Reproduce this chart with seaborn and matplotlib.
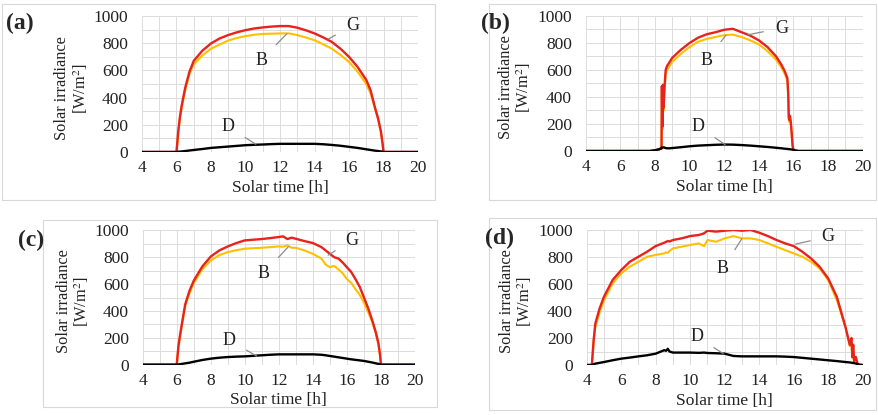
import matplotlib
matplotlib.use("Agg")
import matplotlib.pyplot as plt
from matplotlib.patches import Rectangle
from matplotlib.ticker import MultipleLocator
import pandas as pd
import seaborn as sns

# panel (a)
t_a = [4, 6.0, 6.1, 6.2, 6.3, 6.5, 6.75, 7, 7.5, 8, 8.5, 9, 9.5, 10, 10.5, 11, 11.5, 12, 12.5, 13,
       13.5, 14, 14.5, 15, 15.5, 16, 16.5, 17, 17.25, 17.5, 17.7, 17.85, 17.95, 18.0, 20]
G_a = [0, 0, 150, 260, 340, 470, 590, 670, 745, 798, 835, 860, 880, 896, 908, 916, 922, 926, 926, 914,
       895, 872, 843, 810, 760, 700, 625, 530, 455, 330, 240, 150, 60, 0, 0]
B_a = [0, 0, 140, 245, 325, 450, 570, 645, 710, 760, 790, 820, 838, 852, 862, 868, 870, 872, 872, 860,
       842, 822, 792, 760, 715, 662, 590, 500, 430, 320, 235, 145, 55, 0, 0]
D_a = [0, 0, 2, 3, 4, 7, 11, 15, 22, 30, 35, 40, 45, 50, 53, 55, 58, 60, 60, 60,
       60, 60, 57, 52, 46, 38, 30, 20, 15, 10, 7, 4, 2, 0, 0]

# panel (b)
t_b = [4, 7.7, 8.0, 8.2, 8.38, 8.4, 8.43, 8.46, 8.5, 8.55, 8.62, 8.7, 8.85, 9, 9.25, 9.5, 10, 10.5, 11, 11.5,
       12, 12.5, 13, 13.5, 14, 14.5, 15, 15.3, 15.5, 15.65, 15.7, 15.73, 15.76, 15.8, 15.85, 15.9, 15.95, 16.0,
       16.1, 16.3, 20]
G_b = [0, 0, 5, 10, 20, 480, 180, 490, 320, 470, 600, 630, 660, 690, 720, 750, 800, 840, 865, 880,
       898, 905, 880, 855, 820, 770, 700, 640, 590, 540, 420, 250, 230, 260, 210, 130, 40, 10,
       0, 0, 0]
B_b = [0, 0, 3, 8, 15, 430, 160, 450, 300, 440, 570, 600, 630, 660, 690, 720, 770, 810, 830, 845,
       858, 862, 845, 820, 790, 740, 675, 620, 570, 520, 400, 235, 215, 245, 195, 120, 35, 8,
       0, 0, 0]
D_b = [0, 0, 5, 12, 20, 25, 25, 26, 27, 25, 22, 20, 20, 22, 25, 28, 35, 40, 43, 46,
       48, 47, 44, 40, 35, 30, 24, 20, 17, 15, 14, 14, 13, 13, 12, 11, 10, 8,
       5, 0, 0]

# panel (c)
t_c = [4, 6.0, 6.1, 6.2, 6.35, 6.5, 6.75, 7, 7.5, 8, 8.5, 9, 9.5, 10, 10.5, 11, 11.5, 12, 12.25, 12.5,
       12.75, 13, 13.5, 14, 14.5, 14.75, 15, 15.25, 15.5, 15.75, 16, 16.25, 16.5, 16.75, 17, 17.25, 17.5, 17.7,
       17.85, 17.95, 18.0, 20]
G_c = [0, 0, 140, 225, 340, 450, 550, 625, 730, 805, 850, 880, 905, 925, 930, 935, 942, 950, 955, 935,
       945, 937, 920, 905, 875, 850, 825, 800, 790, 760, 725, 690, 637, 580, 500, 420, 325, 240,
       160, 70, 0, 0]
B_c = [0, 0, 130, 215, 325, 437, 530, 605, 710, 775, 815, 838, 852, 863, 867, 870, 875, 880, 878, 888,
       870, 870, 850, 825, 790, 745, 725, 735, 710, 680, 637, 610, 562, 520, 462, 390, 312, 230,
       150, 65, 0, 0]
D_c = [0, 0, 2, 4, 7, 10, 15, 22, 35, 45, 52, 57, 60, 62, 66, 70, 74, 77, 77, 77,
       77, 77, 77, 77, 74, 70, 65, 60, 55, 50, 45, 40, 36, 32, 28, 22, 16, 10,
       6, 3, 0, 0]

# panel (d)
t_d = [4, 4.3, 4.4, 4.5, 4.75, 5, 5.5, 6, 6.5, 7, 7.5, 8, 8.5, 8.6, 8.7, 8.8, 9, 9.5, 10, 10.5,
       10.8, 11, 11.5, 12, 12.5, 13, 13.5, 14, 14.5, 15, 15.5, 16, 16.5, 17, 17.5, 18, 18.5, 19,
       19.25, 19.35, 19.4, 19.45, 19.5, 19.6, 19.7, 19.8, 20]
G_d = [0, 0, 180, 307, 420, 505, 629, 703, 765, 802, 839, 881, 906, 912, 918, 915, 926, 938, 955, 963,
       975, 995, 988, 995, 1000, 995, 1000, 980, 955, 926, 901, 881, 839, 790, 728, 641, 505, 282,
       150, 200, 60, 150, 30, 60, 10, 0, 0]
B_d = [0, 0, 170, 282, 390, 480, 604, 678, 728, 765, 802, 815, 827, 835, 830, 845, 864, 876, 889, 901,
       880, 926, 913, 938, 955, 938, 938, 926, 901, 876, 851, 827, 802, 765, 715, 629, 480, 282,
       140, 170, 50, 120, 25, 40, 5, 0, 0]
D_d = [0, 0, 5, 10, 16, 22, 35, 47, 55, 64, 72, 84, 110, 105, 120, 100, 92, 92, 92, 90,
       92, 89, 87, 84, 67, 64, 64, 64, 64, 64, 62, 59, 53, 47, 41, 35, 29, 22,
       19, 17, 16, 15, 14, 11, 7, 3, 0]

panel_names = ["(a)", "(b)", "(c)", "(d)"]

sns.set_style("white")
plt.rcParams['font.family'] = ['Liberation Serif', 'DejaVu Serif']
plt.rcParams['mathtext.fontset'] = 'stix'

W, H = 879, 415
fig = plt.figure(figsize=(W / 100, H / 100), dpi=100)


def fx(px):
    return px / W


def fy(py):
    return 1 - py / H


# axes boxes in pixels: left, right, top, bottom
boxes = [(142, 418, 16, 152), (585.7, 862.7, 16, 151),
         (142.7, 415, 230.3, 364.7), (586.7, 862.7, 230, 365)]
# grey frames around each panel
frames = [(2, 435, 4, 200), (489, 876, 4, 200), (43, 437, 220, 407), (489, 876, 218, 410)]
label_pos = [(20, 23), (495, 23), (31, 240), (499, 238)]

# annotation spots: (text xy, point xy) for G, B, D
notes = [
    [((16.2, 930), (14.8, 830)), ((10.9, 674), (12.4, 870)), ((9.0, 185), (10.6, 57))],
    [((15.3, 909), (13.4, 862)), ((11.0, 674), (12.1, 858)), ((10.5, 180), (12.05, 48))],
    [((16.3, 926), (14.9, 815)), ((11.1, 677), (12.56, 878)), ((9.1, 181), (10.7, 64))],
    [((18.0, 950), (16.1, 895)), ((11.9, 715), (12.99, 935)), ((10.4, 208), (11.92, 84))],
]

data = [(t_a, G_a, B_a, D_a), (t_b, G_b, B_b, D_b), (t_c, G_c, B_c, D_c), (t_d, G_d, B_d, D_d)]

for i, (t, G, B, D) in enumerate(data):
    l, r, tp, bt = boxes[i]
    ax = fig.add_axes([fx(l), fy(bt), fx(r) - fx(l), fy(tp) - fy(bt)])
    df = pd.DataFrame({"t": t, "G": G, "B": B, "D": D})
    sns.lineplot(data=df, x="t", y="B", ax=ax, color="#ffc000", linewidth=1.5)
    sns.lineplot(data=df, x="t", y="G", ax=ax, color="#e8221c", linewidth=1.7)
    sns.lineplot(data=df, x="t", y="D", ax=ax, color="black", linewidth=1.7)

    ax.set_xlim(4, 20)
    ax.set_ylim(0, 1000)
    ax.xaxis.set_major_locator(MultipleLocator(2))
    ax.xaxis.set_minor_locator(MultipleLocator(1))
    ax.yaxis.set_major_locator(MultipleLocator(200))
    ax.yaxis.set_minor_locator(MultipleLocator(100))
    ax.grid(which="both", color="#dcdcdc", linewidth=0.7)
    ax.set_axisbelow(True)
    for s in ax.spines.values():
        s.set_visible(False)
    ax.tick_params(which="both", length=0, labelsize=12.5, colors="#222222")
    ax.tick_params(axis="x", pad=6)
    ax.tick_params(axis="y", pad=10)
    ax.set_xlabel("Solar time [h]", fontsize=12.5, color="#222222")
    ax.set_ylabel("Solar irradiance\n[W/m$^2$]", fontsize=11.8, color="#222222", linespacing=1.05)
    ax.xaxis.set_label_coords(0.5, -0.205)
    ax.yaxis.set_label_coords(-0.19, 0.47)

    for name, (txt, pt) in zip(["G", "B", "D"], notes[i]):
        ax.annotate(name, xy=pt, xytext=txt, fontsize=13, ha="center", va="center", color="#222222",
                    arrowprops=dict(arrowstyle="-", color="#8c8c8c", lw=0.9, shrinkA=6, shrinkB=0))

    fl, fr, ft, fb = frames[i]
    fig.add_artist(Rectangle((fx(fl), fy(fb)), fx(fr) - fx(fl), fy(ft) - fy(fb),
                             transform=fig.transFigure, fill=False, edgecolor="#d8d8d8", linewidth=0.8))
    lx, ly = label_pos[i]
    fig.text(fx(lx), fy(ly), panel_names[i], fontsize=17, fontweight="bold", ha="center", va="center")

fig.savefig("out.png", dpi=100)
